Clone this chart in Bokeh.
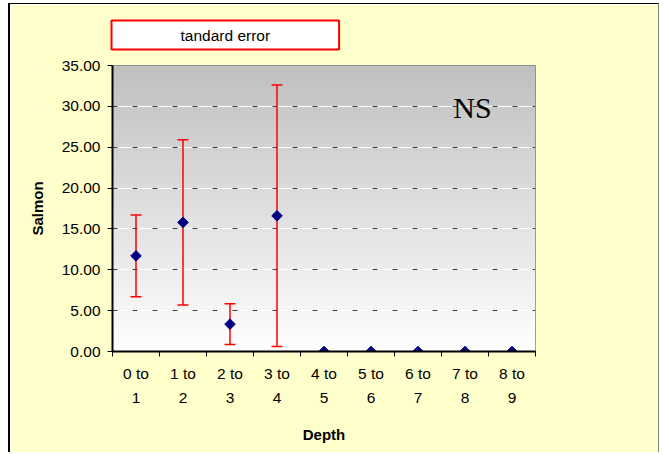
import numpy as np
from bokeh.plotting import figure
from bokeh.models import (Range1d, FixedTicker, Whisker, ColumnDataSource, Label,
                          Grid, TeeHead, NumeralTickFormatter, Title)
from bokeh.embed import file_html
from bokeh.resources import INLINE

# ---- data ----
categories = ["0 to 1", "1 to 2", "2 to 3", "3 to 4", "4 to 5",
              "5 to 6", "6 to 7", "7 to 8", "8 to 9"]
tick_labels = ["0 to\n1", "1 to\n2", "2 to\n3", "3 to\n4", "4 to\n5",
               "5 to\n6", "6 to\n7", "7 to\n8", "8 to\n9"]
salmon_mean = [11.7, 15.8, 3.35, 16.6, 0.0, 0.0, 0.0, 0.0, 0.0]
salmon_se = [5.0, 10.1, 2.5, 16.0, 0.0, 0.0, 0.0, 0.0, 0.0]
y_ticks = [0, 5, 10, 15, 20, 25, 30, 35]
legend_text = "tandard error"
note_text = "NS"

FONT = "Liberation Sans"
n = len(categories)
xpos = list(range(1, n + 1))
x_lo, x_hi = 0.5, n + 0.5
y_lo, y_hi = 0, 35

src = ColumnDataSource(dict(
    x=xpos, mean=salmon_mean,
    upper=[m + s for m, s in zip(salmon_mean, salmon_se)],
    lower=[m - s for m, s in zip(salmon_mean, salmon_se)],
))

p = figure(width=651, height=449, output_backend="svg", toolbar_location=None,
           x_range=Range1d(x_lo, x_hi), y_range=Range1d(y_lo, y_hi),
           min_border_left=102, min_border_right=126, min_border_top=61,
           min_border_bottom=102)
p.styles = {"margin-left": "8px", "margin-top": "3px",
            "border-left": "2px solid black", "border-top": "1px solid black",
            "border-right": "1px solid #808080"}
p.border_fill_color = "#FFFFCC"
p.background_fill_color = "white"
p.outline_line_color = "#808080"
p.outline_line_width = 1

# legend-like box (as a title box above the frame)
leg = Title(text=legend_text, align="left", vertical_align="top", offset=-1,
            standoff=28, text_font=FONT, text_font_size="15.5px",
            text_font_style="normal", text_color="black",
            background_fill_color="white", border_line_color="red",
            border_line_width=2, padding=(69, 6))
p.add_layout(leg, "above")

# gradient background of the plot area
ng = 256
t = np.linspace(0, 1, ng)
g = (255 - 63 * t).astype(np.uint8)
img = np.zeros((ng, 1), dtype=np.uint32)
view = img.view(dtype=np.uint8).reshape((ng, 1, 4))
view[:, 0, 0] = g
view[:, 0, 1] = g
view[:, 0, 2] = g
view[:, 0, 3] = 255
im = p.image_rgba(image=[img], x=x_lo, y=y_lo, dw=x_hi - x_lo, dh=y_hi - y_lo)
im.level = "image"

# grids: white line with dark dashes on top
p.xgrid.visible = False
p.ygrid.visible = False
wgrid = Grid(dimension=1, ticker=FixedTicker(ticks=y_ticks),
             grid_line_color="white", grid_line_width=1)
wgrid.level = "underlay"
dgrid = Grid(dimension=1, ticker=FixedTicker(ticks=y_ticks),
             grid_line_color="#404040", grid_line_width=1, grid_line_dash="5 15")
dgrid.level = "underlay"
p.add_layout(wgrid, "center")
p.add_layout(dgrid, "center")

# error bars
wh = Whisker(source=src, base="x", upper="upper", lower="lower",
             line_color="red", line_width=1.5,
             upper_head=TeeHead(size=11, line_color="red", line_width=1.5),
             lower_head=TeeHead(size=11, line_color="red", line_width=1.5))
wh.level = "underlay"
p.add_layout(wh)

# markers
p.scatter("x", "mean", source=src, marker="square", angle=np.pi / 4, size=7.5,
          fill_color="#000080", line_color="#000080")

# axes
p.yaxis.ticker = FixedTicker(ticks=y_ticks)
p.yaxis.formatter = NumeralTickFormatter(format="0.00")
p.yaxis.major_tick_out = 5
p.yaxis.major_tick_in = 0
p.yaxis.minor_tick_line_color = None
p.yaxis.major_label_standoff = 7
p.yaxis.axis_label = "Salmon"
p.yaxis.axis_label_standoff = 13

p.xaxis.ticker = FixedTicker(ticks=xpos, minor_ticks=[x_lo + i for i in range(n + 1)])
p.xaxis.major_label_overrides = {xi: lbl for xi, lbl in zip(xpos, tick_labels)}
p.xaxis.major_tick_line_color = None
p.xaxis.minor_tick_out = 5
p.xaxis.minor_tick_in = 0
p.xaxis.minor_tick_line_color = "black"
p.xaxis.major_label_standoff = 7
p.xaxis.axis_label = "Depth"
p.xaxis.axis_label_standoff = 17

for ax in (p.xaxis[0], p.yaxis[0]):
    ax.axis_line_color = "black"
    ax.axis_line_width = 2
    ax.major_label_text_font = FONT
    ax.major_label_text_font_size = "15.5px"
    ax.major_label_text_color = "black"
    ax.axis_label_text_font = FONT
    ax.axis_label_text_font_size = "15px"
    ax.axis_label_text_font_style = "bold"
    ax.axis_label_text_color = "black"
p.xaxis.major_label_text_line_height = 1.42

# NS annotation
ns = Label(x=8.16, y=29.9, text=note_text, text_align="center",
           text_baseline="alphabetic", text_font="Liberation Serif",
           text_font_size="30px", text_color="black")
p.add_layout(ns)

open("out.html", "w").write(file_html(p, INLINE))
